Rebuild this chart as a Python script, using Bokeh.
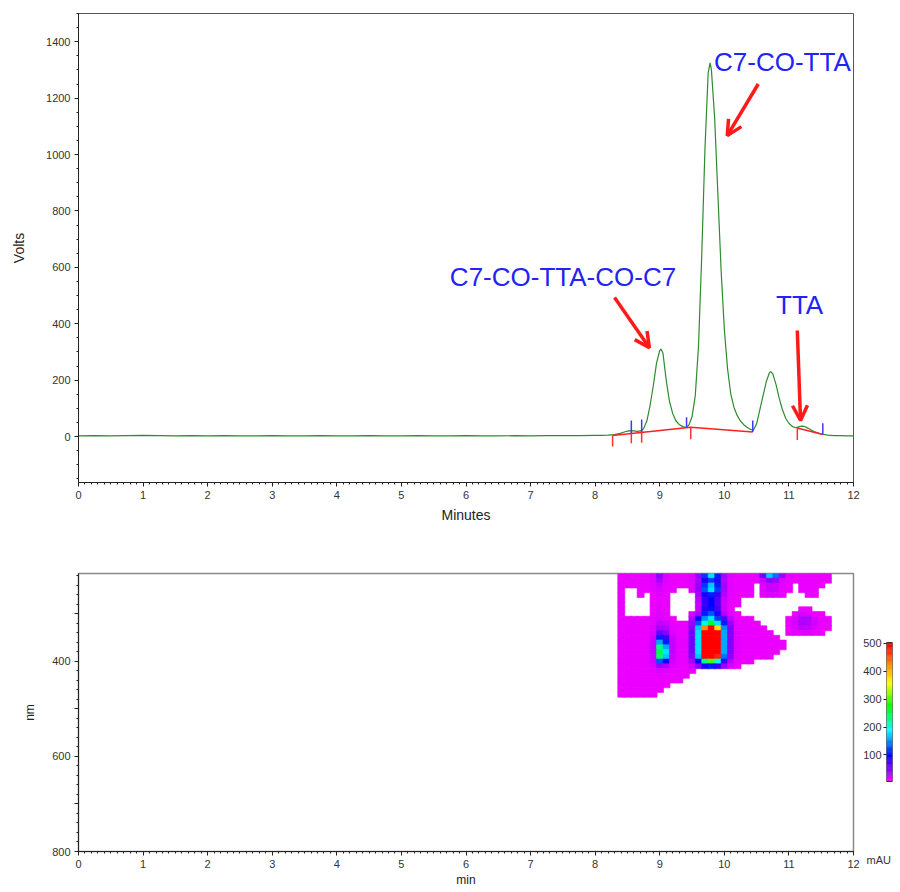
import numpy as np
from bokeh.plotting import figure
from bokeh.models import Range1d, FixedTicker, ColumnDataSource, Arrow, OpenHead, Title
from bokeh.layouts import column, row
from bokeh.core.properties import value
from bokeh.transform import linear_cmap
from bokeh.embed import file_html
from bokeh.resources import INLINE

# ---------------- chromatogram data (minutes, volts) ----------------
CHROM = [(0.0, 2), (0.25, 3), (0.5, 2), (0.75, 3), (1.0, 4), (1.25, 3), (1.5, 2), (1.75, 3),
         (2.0, 2), (2.25, 3), (2.5, 2), (2.75, 2), (3.0, 3), (3.25, 2), (3.5, 2), (3.75, 3),
         (4.0, 2), (4.25, 2), (4.5, 3), (4.75, 2), (5.0, 2), (5.25, 3), (5.5, 2), (5.75, 2),
         (6.0, 3), (6.25, 2), (6.5, 2), (6.75, 3), (7.0, 2), (7.25, 3), (7.5, 3), (7.75, 3),
         (8.0, 4), (8.1, 4), (8.2, 5), (8.3, 7), (8.4, 12), (8.45, 16), (8.5, 19), (8.55, 21),
         (8.6, 20), (8.65, 18), (8.7, 20), (8.75, 28), (8.8, 55), (8.85, 110), (8.9, 180),
         (8.95, 260), (9.0, 305), (9.02, 310), (9.05, 295), (9.1, 200), (9.15, 125), (9.2, 82),
         (9.25, 56), (9.3, 43), (9.35, 36), (9.4, 32), (9.45, 40), (9.5, 70), (9.55, 145),
         (9.6, 320), (9.65, 640), (9.7, 1020), (9.75, 1290), (9.78, 1325), (9.8, 1300),
         (9.85, 1130), (9.9, 860), (9.95, 590), (10.0, 380), (10.05, 240), (10.1, 150),
         (10.15, 103), (10.2, 74), (10.25, 55), (10.3, 42), (10.35, 33), (10.4, 26), (10.45, 22),
         (10.5, 45), (10.55, 95), (10.6, 145), (10.65, 195), (10.7, 227), (10.72, 230),
         (10.75, 222), (10.8, 185), (10.85, 135), (10.9, 95), (10.95, 65), (11.0, 47),
         (11.05, 36), (11.1, 31), (11.15, 34), (11.2, 37), (11.25, 35), (11.3, 29), (11.35, 22),
         (11.4, 17), (11.5, 9), (11.6, 5), (11.7, 3), (11.8, 3), (11.9, 2), (12.0, 2)]
TIME = [p[0] for p in CHROM]
VOLTS = [p[1] for p in CHROM]

# integration baselines (red) and peak markers
BASE1_T = [8.27, 9.48, 10.44]
BASE1_V = [4, 33, 16]
BASE2_T = [11.13, 11.525]
BASE2_V = [30, 7]
RED_TICK_T = [8.27, 8.56, 8.72, 9.48, 11.13]
RED_TICK_TOP = [4, 15, 21, 33, 30]
RED_TICK_BOT = [-35, -24, -22, -10, -12]
BLUE_TICK_T = [8.56, 8.72, 9.415, 10.44, 11.525]
BLUE_TICK_TOP = [57, 60, 68, 57, 47]
BLUE_TICK_BOT = [12, 16, 30, 16, 7]

# annotations
LABEL_TEXT = ["C7-CO-TTA", "C7-CO-TTA-CO-C7", "TTA"]
LABEL_T = [9.84, 5.75, 10.80]
LABEL_V = [1327, 565, 466]
ARROW_T0 = [10.525, 8.30, 11.13]
ARROW_V0 = [1250, 493, 376]
ARROW_T1 = [10.045, 8.84, 11.18]
ARROW_V1 = [1067, 315, 57]

X_TICKS = [0, 1, 2, 3, 4, 5, 6, 7, 8, 9, 10, 11, 12]
Y_TICKS_TOP = [0, 200, 400, 600, 800, 1000, 1200, 1400]
NM_TICKS = [300, 400, 500, 600, 700, 800]
NM_TICK_LABELS = {300: "", 400: "400", 500: "", 600: "600", 700: "", 800: "800"}
CB_TICKS = [100, 200, 300, 400, 500]
CB_MIN, CB_MAX = 5, 503

# ---------------- 3D field (min x nm -> mAU) ----------------
HT_TIME = [8.4, 8.5, 8.6, 8.7, 8.8, 8.9, 9.0, 9.1, 9.2, 9.3, 9.4, 9.5, 9.6, 9.7, 9.8, 9.9, 10.0,
           10.1, 10.2, 10.3, 10.4, 10.5, 10.6, 10.7, 10.8, 10.9, 11.0, 11.1, 11.2, 11.3, 11.4, 11.5, 11.6]
HT_NM = [220, 230, 240, 250, 260, 270, 280, 290, 300, 310, 320, 330, 340, 350, 360, 370, 380,
         390, 400, 410, 420, 430, 440, 450, 460, 470]
HT_MAU = [
    [8,8,8,8,8, 15,45,15,8,8, 8,12,40,120,180, 110,35,12,8,8, 8,10,60,170,140, 40,10,8,8,8, 8,8,8],
    [8,8,8,8,8, 12,35,12,8,8, 8,12,35,90,120, 85,30,10,8,8, 8,8,25,45,40, 15,8,8,8,8, 8,8,8],
    [8,8,8,8,8, 10,20,10,8,8, 8,12,40,120,170, 110,35,10,8,8, 8,0,12,20,18, 10,8,0,8,8, 8,8,0],
    [8,0,0,8,8, 10,15,10,8,0, 0,12,45,130,180, 120,35,10,8,8, 8,0,12,22,20, 10,8,0,8,8, 8,0,0],
    [8,0,0,8,0, 8,12,8,0,0, 0,0,35,90,110, 80,30,10,8,8, 8,0,10,15,12, 8,0,0,0,8, 8,0,0],
    [8,0,0,0,0, 8,10,8,0,0, 0,0,25,80,100, 70,22,8,8,0, 0,0,0,0,0, 0,0,0,0,0, 0,0,0],
    [8,0,0,0,0, 8,10,8,0,0, 0,0,22,80,100, 70,20,8,8,0, 0,0,0,0,0, 0,0,0,0,0, 0,0,0],
    [8,0,0,0,0, 8,12,8,0,0, 0,0,22,85,105, 75,20,8,0,0, 0,0,0,0,0, 0,0,0,8,8, 0,0,0],
    [8,0,0,0,0, 8,12,8,0,0, 0,15,35,110,130, 90,28,12,8,0, 0,0,0,0,0, 0,0,8,15,15, 8,8,0],
    [8,8,8,8,8, 10,15,10,8,0, 0,30,90,150,180, 120,70,25,8,8, 8,0,0,0,0, 0,8,15,30,30, 15,8,8],
    [8,8,8,8,8, 10,25,20,10,8, 8,40,130,200,260, 180,110,40,10,8, 8,8,0,0,0, 0,8,18,32,30, 18,10,8],
    [8,8,8,8,8, 12,35,30,12,8, 8,50,170,420,520, 380,150,50,10,8, 8,8,8,0,0, 0,8,15,25,22, 15,8,8],
    [8,8,8,8,8, 15,60,45,15,8, 8,55,180,520,520, 520,160,50,12,8, 8,8,8,8,0, 0,8,10,12,12, 10,8,0],
    [8,8,8,8,8, 20,110,80,20,10, 10,55,180,520,520, 520,160,50,12,8, 8,8,8,8,8, 0,0,0,0,0, 0,0,0],
    [8,8,8,8,8, 22,160,110,22,10, 10,55,180,520,520, 520,160,50,12,8, 8,8,8,8,8, 8,0,0,0,0, 0,0,0],
    [8,8,8,8,8, 25,230,160,25,10, 10,55,180,520,520, 520,160,50,12,8, 8,8,8,8,8, 8,0,0,0,0, 0,0,0],
    [8,8,8,8,8, 25,250,180,25,10, 10,55,180,520,520, 520,160,50,12,8, 8,8,8,8,8, 0,0,0,0,0, 0,0,0],
    [8,8,8,8,8, 22,240,170,22,10, 10,50,170,500,520, 480,140,45,12,8, 8,8,8,8,0, 0,0,0,0,0, 0,0,0],
    [8,8,8,8,8, 18,130,95,18,10, 10,35,100,230,300, 200,80,30,10,8, 8,0,0,0,0, 0,0,0,0,0, 0,0,0],
    [8,8,8,8,8, 12,40,30,12,8, 8,18,45,90,110, 80,40,15,8,0, 0,0,0,0,0, 0,0,0,0,0, 0,0,0],
    [8,8,8,8,8, 8,15,12,8,8, 8,8,0,0,0, 0,0,0,0,0, 0,0,0,0,0, 0,0,0,0,0, 0,0,0],
    [8,8,8,8,8, 8,10,8,8,8, 8,0,0,0,0, 0,0,0,0,0, 0,0,0,0,0, 0,0,0,0,0, 0,0,0],
    [8,8,8,8,8, 8,8,8,8,8, 0,0,0,0,0, 0,0,0,0,0, 0,0,0,0,0, 0,0,0,0,0, 0,0,0],
    [8,8,8,8,8, 8,8,8,0,0, 0,0,0,0,0, 0,0,0,0,0, 0,0,0,0,0, 0,0,0,0,0, 0,0,0],
    [8,8,8,8,8, 8,8,0,0,0, 0,0,0,0,0, 0,0,0,0,0, 0,0,0,0,0, 0,0,0,0,0, 0,0,0],
    [8,8,8,8,8, 8,0,0,0,0, 0,0,0,0,0, 0,0,0,0,0, 0,0,0,0,0, 0,0,0,0,0, 0,0,0],
]
for r in HT_MAU:
    assert len(r) == len(HT_TIME)
assert len(HT_MAU) == len(HT_NM)

# ---------------- styling helpers ----------------
FONT = "Liberation Sans"
ANCH_POS = [0.0, 0.1, 0.2, 0.38, 0.55, 0.72, 0.86, 1.0]
ANCH_RGB = [(255, 0, 255), (128, 0, 255), (0, 0, 255), (0, 255, 255), (0, 255, 0),
            (255, 255, 0), (255, 128, 0), (255, 0, 0)]
pos = np.linspace(0, 1, 256)
chan = [np.interp(pos, ANCH_POS, [c[i] for c in ANCH_RGB]) for i in range(3)]
PALETTE = ["#%02x%02x%02x" % (int(round(r)), int(round(g)), int(round(b)))
           for r, g, b in zip(*chan)]


def style_axes(p, tick_size="11px"):
    for ax in (p.xaxis[0], p.yaxis[0]):
        ax.major_label_text_font = FONT
        ax.major_label_text_font_size = tick_size
        ax.major_label_text_color = "#333333"
        ax.axis_label_text_font = FONT
        ax.axis_label_text_font_style = "normal"
        ax.axis_label_text_color = "#222222"
        ax.axis_line_color = "#222222"
        ax.major_tick_line_color = "#222222"
        ax.minor_tick_line_color = "#222222"
        ax.major_tick_out = 4
        ax.major_tick_in = 0
        ax.minor_tick_out = 2
        ax.minor_tick_in = 0
        ax.major_label_standoff = 4
    p.xgrid.visible = False
    p.ygrid.visible = False


# ---------------- top figure ----------------
top = figure(width=900, height=540, x_range=Range1d(0, 12), y_range=Range1d(-163, 1500),
             min_border_left=78, min_border_right=47, min_border_top=13, min_border_bottom=58,
             toolbar_location=None, output_backend="svg")
style_axes(top)
top.outline_line_color = "#555555"
top.outline_line_width = 1
top.xaxis.ticker = FixedTicker(ticks=X_TICKS, minor_ticks=list(np.round(np.arange(0, 12.01, 0.1), 2)))
top.yaxis.ticker = FixedTicker(ticks=Y_TICKS_TOP, minor_ticks=list(np.arange(-150, 1501, 50)))
top.xaxis.axis_label = "Minutes"
top.yaxis.axis_label = "Volts"
top.xaxis.axis_label_text_font_size = "14px"
top.yaxis.axis_label_text_font_size = "14px"
top.xaxis.axis_label_standoff = 5
top.yaxis.axis_label_standoff = 16

top.line(TIME, VOLTS, line_color="#2e8b2e", line_width=1.2)
top.line(BASE1_T, BASE1_V, line_color="#ff2020", line_width=1.5)
top.line(BASE2_T, BASE2_V, line_color="#ff2020", line_width=1.5)
top.segment(x0=RED_TICK_T, y0=RED_TICK_BOT, x1=RED_TICK_T, y1=RED_TICK_TOP,
            line_color="#ff3030", line_width=1.5)
top.segment(x0=BLUE_TICK_T, y0=BLUE_TICK_BOT, x1=BLUE_TICK_T, y1=BLUE_TICK_TOP,
            line_color="#3a3aff", line_width=1.5)

lab_src = ColumnDataSource(dict(x=LABEL_T, y=LABEL_V, text=LABEL_TEXT))
top.text(x="x", y="y", text="text", source=lab_src, text_font=value(FONT),
         text_font_size="26px", text_color="#2323f5", text_baseline="alphabetic",
         text_align="left")
for x0, y0, x1, y1 in zip(ARROW_T0, ARROW_V0, ARROW_T1, ARROW_V1):
    top.add_layout(Arrow(x_start=x0, y_start=y0, x_end=x1, y_end=y1,
                         line_color="#ff1a1a", line_width=3.5,
                         end=OpenHead(size=15, line_color="#ff1a1a", line_width=3.5)))

# ---------------- bottom figure (contour map) ----------------
BOT_H, BOT_TOP, BOT_BOTTOM = 352, 33, 41
bot = figure(width=860, height=BOT_H, x_range=Range1d(0, 12), y_range=Range1d(800, 215),
             min_border_left=78, min_border_right=7, min_border_top=BOT_TOP,
             min_border_bottom=BOT_BOTTOM, toolbar_location=None, output_backend="svg")
style_axes(bot)
bot.outline_line_color = "#8a8a8a"
bot.outline_line_width = 1.5
bot.xaxis.ticker = FixedTicker(ticks=X_TICKS, minor_ticks=list(np.round(np.arange(0, 12.01, 0.1), 2)))
bot.yaxis.ticker = FixedTicker(ticks=NM_TICKS, minor_ticks=list(range(220, 801, 20)))
bot.yaxis.major_label_overrides = NM_TICK_LABELS
bot.xaxis.axis_label = "min"
bot.yaxis.axis_label = "nm"
bot.xaxis.axis_label_text_font_size = "12px"
bot.yaxis.axis_label_text_font_size = "12px"
bot.xaxis.axis_label_standoff = 2
bot.yaxis.axis_label_standoff = 12

cells_t, cells_nm, cells_v = [], [], []
for nm, rowv in zip(HT_NM, HT_MAU):
    for t, v in zip(HT_TIME, rowv):
        if v > 0:
            cells_t.append(t)
            cells_nm.append(nm)
            cells_v.append(v)
heat_src = ColumnDataSource(dict(t=cells_t, nm=cells_nm, v=cells_v))
cmap = linear_cmap("v", PALETTE, 0, 500, high_color="#ff0000")
bot.rect(x="t", y="nm", width=0.1, height=10, source=heat_src, fill_color=cmap,
         line_color=cmap, line_width=0.6, dilate=True)

# ---------------- colour bar (same frame height as the map, bar drawn inside) ----------------
FRAME_PX = 278.0
BAR_TOP_PX, BAR_BOT_PX = 69.0, 208.0       # offsets from frame top
upp = (CB_MAX - CB_MIN) / (BAR_BOT_PX - BAR_TOP_PX)
cb_lo = CB_MIN - (FRAME_PX - BAR_BOT_PX) * upp
cb_hi = CB_MAX + BAR_TOP_PX * upp
cb = figure(width=40, height=BOT_H, x_range=Range1d(0, 1), y_range=Range1d(cb_lo, cb_hi),
            min_border_left=26, min_border_right=8, min_border_top=BOT_TOP,
            min_border_bottom=BOT_BOTTOM, toolbar_location=None, output_backend="svg")
cb.xaxis.visible = False
cb.xgrid.visible = False
cb.ygrid.visible = False
cb.outline_line_color = None
cb.yaxis.ticker = FixedTicker(ticks=CB_TICKS)
cb.yaxis.major_label_text_font = FONT
cb.yaxis.major_label_text_font_size = "11px"
cb.yaxis.major_label_text_color = "#333333"
cb.yaxis.axis_line_color = None
cb.yaxis.major_tick_out = 3
cb.yaxis.major_tick_in = 0
cb.yaxis.major_tick_line_color = "#222222"
cb.yaxis.minor_tick_line_color = None
cb.yaxis.major_label_standoff = 2
edges = np.linspace(CB_MIN, CB_MAX, 121)
cb_src = ColumnDataSource(dict(b=edges[:-1], t=edges[1:], v=(edges[:-1] + edges[1:]) / 2))
cb.quad(left=0, right=1, bottom="b", top="t", source=cb_src,
        fill_color=linear_cmap("v", PALETTE, 0, 500, high_color="#ff0000"),
        line_color=linear_cmap("v", PALETTE, 0, 500, high_color="#ff0000"), line_width=0.5)
cb.quad(left=[0], right=[1], bottom=[CB_MIN], top=[CB_MAX], fill_color=None,
        line_color="#333333", line_width=1)
cb.add_layout(Title(text="mAU", align="left", offset=-20, standoff=0,
                    text_font=FONT, text_font_size="11px", text_font_style="normal",
                    text_color="#333333"), "below")

layout = column(top, row(bot, cb))
open("out.html", "w").write(file_html(layout, INLINE))
